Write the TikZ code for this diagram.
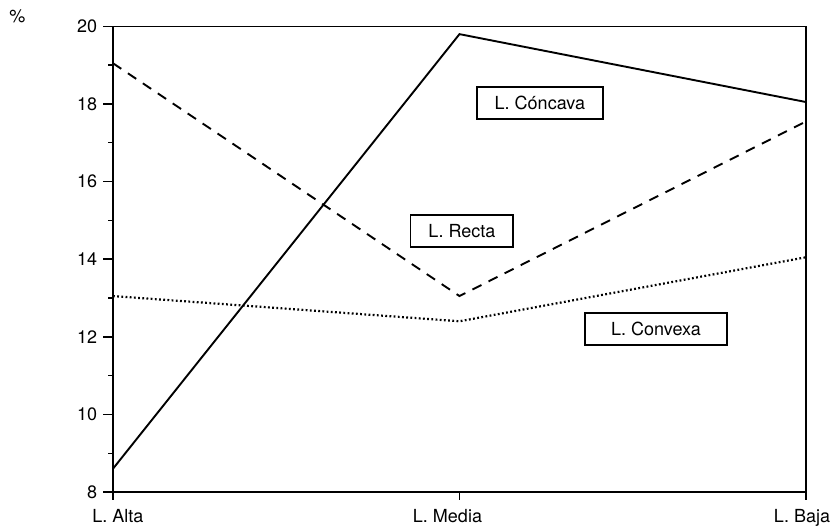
\documentclass[tikz,border=0pt]{standalone}
\usepackage{fontspec}
\setmainfont{TeX Gyre Heros}
\usepackage{tikz}

\begin{document}
\begin{tikzpicture}[x=173.25pt,y=19.4pt,
  every node/.style={font=\fontsize{9}{11}\selectfont},
  lbox/.style={draw, line width=0.9pt, inner xsep=9pt, minimum height=16pt}]
\useasboundingbox (-0.326,7.072) rectangle (2.075,20.68);

% axes and frame
\draw[line width=0.8pt] (0,8) rectangle (2,20);
\foreach \y in {8,10,...,20}
  \draw[line width=0.8pt] (0,\y) -- ++(-5pt,0) node[left, inner sep=2.5pt] {\y};
\foreach \y in {9,11,...,19}
  \draw[line width=0.7pt] (0,\y) -- ++(-2.5pt,0);
\foreach \x/\s/\t in {0/2.5pt/L. Alta, 1/-6pt/L. Media, 2/-2pt/L. Baja}
  \draw[line width=0.8pt] (\x,8) -- ++(0,-4pt) node[below, xshift=\s, inner sep=4.5pt] {\t};
\node (pct) at (-0.276,20.27) {\%};

% data
\coordinate (c1) at (0,8.6);
\coordinate (c2) at (1,19.8);
\coordinate (c3) at (2,18.05);
\coordinate (r1) at (0,19.05);
\coordinate (r2) at (1,13.05);
\coordinate (r3) at (2,17.55);
\coordinate (v1) at (0,13.05);
\coordinate (v2) at (1,12.4);
\coordinate (v3) at (2,14.05);

\draw[line width=0.95pt] (c1) -- (c2) -- (c3);
\draw[line width=0.95pt, dash pattern=on 5pt off 4pt] (r1) -- (r2) -- (r3);
\draw[line width=1.1pt, dash pattern=on 0.9pt off 1.2pt] (v1) -- (v2) -- (v3);

% labels
\node[lbox] (concava) at (1.232,18.03) {L. Cóncava};
\node[lbox] (recta) at (1.007,14.73) {L. Recta};
\node[lbox, minimum width=71pt] (convexa) at (1.567,12.2) {L. Convexa};
\end{tikzpicture}
\end{document}
